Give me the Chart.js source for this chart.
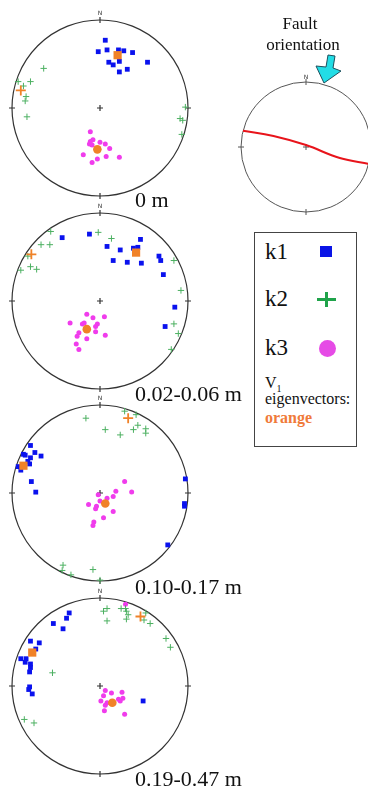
<!DOCTYPE html>
<html>
<head>
<meta charset="utf-8">
<script src="https://cdn.jsdelivr.net/npm/chart.js@4.4.0/dist/chart.umd.min.js"></script>
<style>
html, body { margin: 0; padding: 0; background: #fff; }
body { position: relative; width: 368px; height: 799px; overflow: hidden; font-family: "Liberation Serif", "Times New Roman", serif; color: #111; }
canvas { position: absolute; }
.t { position: absolute; white-space: nowrap; line-height: 1; }
.depth { font-size: 22px; left: 135px; }
.north { font-family: "DejaVu Sans", sans-serif; font-size: 6px; color: #333; transform: translateX(-50%); }
.key { position: absolute; left: 254px; top: 232px; width: 103px; height: 215px; box-sizing: border-box; border: 1.5px solid #444; }
.k { font-size: 23px; left: 265px; }
.mk { position: absolute; }
</style>
</head>
<body>

<canvas id="net1" width="200" height="200" style="left:0;top:8px"></canvas>
<canvas id="net2" width="200" height="200" style="left:0;top:201px"></canvas>
<canvas id="net3" width="200" height="200" style="left:0;top:393px"></canvas>
<canvas id="net4" width="200" height="200" style="left:0;top:586px"></canvas>
<canvas id="fault" width="150" height="175" style="left:230px;top:45px"></canvas>

<span class="t north" style="left:100px;top:10px">N</span>
<span class="t north" style="left:100px;top:203px">N</span>
<span class="t north" style="left:100px;top:395px">N</span>
<span class="t north" style="left:100px;top:588px">N</span>
<span class="t north" style="left:306px;top:74px">N</span>

<span class="t depth" style="top:189px">0 m</span>
<span class="t depth" style="top:383px">0.02-0.06 m</span>
<span class="t depth" style="top:576px">0.10-0.17 m</span>
<span class="t depth" style="top:768px">0.19-0.47 m</span>

<span class="t" style="font-size:17px;left:300px;top:15px;transform:translateX(-50%)">Fault</span>
<span class="t" style="font-size:17px;left:303px;top:36px;transform:translateX(-50%)">orientation</span>

<div class="key"></div>
<span class="t k" style="top:240px">k1</span>
<span class="t k" style="top:287px">k2</span>
<span class="t k" style="top:336px">k3</span>
<div class="mk" style="left:320px;top:246px;width:12px;height:11px;background:#0a14e6"></div>
<div class="mk" style="left:317px;top:298px;width:19px;height:3px;background:#1fa34a"></div>
<div class="mk" style="left:325px;top:292px;width:3px;height:15px;background:#1fa34a"></div>
<div class="mk" style="left:319px;top:340px;width:17px;height:17px;border-radius:50%;background:#e64be6"></div>
<span class="t" style="font-size:16px;left:265px;top:375px">V<sub style="font-size:10px">1</sub></span>
<span class="t" style="font-size:16px;left:265px;top:391px">eigenvectors:</span>
<span class="t" style="font-size:16px;left:265px;top:410px;color:#f07a3a;font-weight:bold">orange</span>

<script>
// lower-hemisphere nets, x = east, y = north, unit circle

// 0 m
var net1K1 = [[0.06, 0.77], [-0.02, 0.64], [0.08, 0.66], [0.21, 0.66], [0.27, 0.65], [0.37, 0.63],
    [0.22, 0.53], [0.10, 0.52], [0.15, 0.49], [0.31, 0.44], [0.22, 0.41], [0.54, 0.52]];
var net1K2 = [[-0.64, 0.45], [-0.93, 0.30], [-0.87, 0.25], [-0.79, 0.30], [-0.84, 0.13], [-0.85, 0.08],
    [-0.83, -0.10], [0.97, 0.01], [0.91, -0.12], [0.94, -0.14], [0.93, -0.30]];
var net1K3 = [[-0.11, -0.27], [-0.11, -0.38], [-0.12, -0.41], [-0.08, -0.36], [-0.09, -0.42], [0.00, -0.39],
    [0.06, -0.41], [0.11, -0.46], [-0.19, -0.53], [0.07, -0.55], [0.22, -0.56], [-0.03, -0.58], [-0.09, -0.62]];
var net1V1 = [[0.20, 0.60], [-0.90, 0.20], [-0.03, -0.47]];

// 0.02-0.06 m
var net2K1 = [[-0.43, 0.72], [-0.12, 0.76], [0.46, 0.70], [0.08, 0.62], [0.23, 0.58], [0.38, 0.60],
    [0.43, 0.61], [0.15, 0.46], [0.31, 0.44], [0.47, 0.43], [0.67, 0.51], [0.69, 0.46], [0.72, 0.30],
    [0.85, -0.07], [0.74, -0.29]];
var net2K2 = [[-0.56, 0.79], [-0.02, 0.78], [0.13, 0.71], [-0.67, 0.64], [-0.57, 0.64], [-0.82, 0.51],
    [-0.79, 0.39], [-0.72, 0.36], [-0.90, 0.35], [0.84, 0.46], [0.92, 0.12], [0.84, -0.26], [0.89, -0.37],
    [0.81, -0.55]];
var net2K3 = [[-0.15, -0.15], [-0.08, -0.19], [0.05, -0.18], [-0.34, -0.25], [-0.20, -0.26], [-0.18, -0.25],
    [-0.03, -0.26], [-0.05, -0.29], [-0.24, -0.36], [-0.05, -0.35], [0.06, -0.39], [-0.26, -0.40],
    [-0.15, -0.43], [-0.27, -0.49], [-0.24, -0.55]];
var net2V1 = [[0.41, 0.55], [-0.78, 0.53], [-0.15, -0.32]];

// 0.10-0.17 m
var net3K1 = [[-0.79, 0.54], [-0.87, 0.44], [-0.85, 0.43], [-0.74, 0.46], [-0.67, 0.42], [-0.79, 0.40],
    [-0.82, 0.36], [-0.80, 0.33], [-0.93, 0.30], [-0.90, 0.26], [-0.78, 0.13], [-0.73, 0.01],
    [0.97, 0.16], [0.96, -0.12], [0.96, -0.15], [0.77, -0.59]];
var net3K2 = [[-0.16, 0.85], [0.28, 0.93], [0.41, 0.89], [0.06, 0.72], [0.23, 0.66], [0.38, 0.72],
    [0.43, 0.77], [0.52, 0.73], [0.52, 0.68], [-0.42, -0.82], [-0.43, -0.88], [-0.33, -0.93],
    [-0.08, -0.87], [0.00, -0.99]];
var net3K3 = [[0.28, 0.13], [0.18, 0.02], [0.36, 0.01], [0.08, -0.06], [0.15, -0.04], [-0.02, -0.02],
    [0.00, -0.09], [-0.04, -0.15], [-0.13, -0.13], [-0.05, -0.18], [0.15, -0.21], [0.04, -0.28],
    [-0.07, -0.33], [-0.08, -0.37]];
var net3V1 = [[-0.87, 0.31], [0.32, 0.85], [0.06, -0.12]];

// 0.19-0.47 m
var net4K1 = [[-0.35, 0.83], [-0.38, 0.77], [-0.53, 0.71], [-0.42, 0.65], [-0.79, 0.51], [-0.69, 0.49],
    [-0.73, 0.42], [-0.90, 0.31], [-0.84, 0.31], [-0.85, 0.27], [-0.79, 0.25], [-0.79, 0.21],
    [-0.80, 0.16], [-0.80, -0.01], [-0.81, -0.04], [-0.77, -0.09], [0.49, -0.17]];
var net4K2 = [[0.08, 0.88], [0.04, 0.85], [0.08, 0.74], [0.24, 0.88], [0.29, 0.88], [0.30, 0.85],
    [0.32, 0.81], [0.30, 0.76], [0.52, 0.83], [0.57, 0.71], [0.75, 0.54], [0.80, 0.44],
    [-0.54, 0.15], [-0.86, -0.38], [-0.75, -0.42], [0.50, 0.75]];
var net4K3 = [[0.29, 0.93], [0.06, -0.05], [0.13, -0.08], [0.25, -0.07], [0.04, -0.11], [0.01, -0.17],
    [0.08, -0.19], [0.06, -0.22], [0.21, -0.15], [0.26, -0.14], [0.23, -0.17], [0.05, -0.28], [0.28, -0.32]];
var net4V1 = [[-0.77, 0.38], [0.46, 0.79], [0.14, -0.19]];

// fault great circle
var faultTrace = [[-0.97, 0.25], [-0.50, 0.17], [0.00, 0.03], [0.52, -0.17], [0.97, -0.26]];

var blue = '#0a12ee';
var green = '#4cb061';
var magenta = '#f03cec';
var orange = '#f08228';

function pts(arr) {
    return arr.map(function (p) { return { x: p[0], y: p[1] }; });
}

var netFrame = {
    id: 'netFrame',
    beforeDatasetsDraw: function (chart, args, opts) {
        var a = chart.chartArea, ctx = chart.ctx;
        var cx = (a.left + a.right) / 2, cy = (a.top + a.bottom) / 2, r = (a.right - a.left) / 2;
        ctx.save();
        ctx.strokeStyle = opts.color || '#333';
        ctx.lineWidth = opts.lineWidth || 1.2;
        ctx.beginPath();
        ctx.arc(cx, cy, r, 0, 2 * Math.PI);
        ctx.stroke();
        // N/E/S/W ticks and centre cross
        ctx.beginPath();
        ctx.moveTo(cx, a.top - 3); ctx.lineTo(cx, a.top + 3);
        ctx.moveTo(cx, a.bottom - 3); ctx.lineTo(cx, a.bottom + 3);
        ctx.moveTo(a.left - 3, cy); ctx.lineTo(a.left + 3, cy);
        ctx.moveTo(a.right - 3, cy); ctx.lineTo(a.right + 3, cy);
        ctx.moveTo(cx - 3, cy); ctx.lineTo(cx + 3, cy);
        ctx.moveTo(cx, cy - 3); ctx.lineTo(cx, cy + 3);
        ctx.stroke();
        ctx.restore();
    }
};

// cyan arrow pointing at the fault net, offsets in px from the net centre
var arrowShape = [[22, -92], [29, -91], [27, -79], [35, -76], [18, -64], [10, -81], [20, -80]];
var faultArrow = {
    id: 'faultArrow',
    afterDraw: function (chart) {
        var a = chart.chartArea, ctx = chart.ctx;
        var cx = (a.left + a.right) / 2, cy = (a.top + a.bottom) / 2;
        ctx.save();
        ctx.beginPath();
        arrowShape.forEach(function (p, i) {
            if (i === 0) ctx.moveTo(cx + p[0], cy + p[1]);
            else ctx.lineTo(cx + p[0], cy + p[1]);
        });
        ctx.closePath();
        ctx.fillStyle = '#22dde6';
        ctx.fill();
        ctx.strokeStyle = '#1d4f5c';
        ctx.lineWidth = 1;
        ctx.stroke();
        ctx.restore();
    }
};

function netDatasets(k1, k2, k3, v1) {
    return [
        { data: pts([v1[0]]), pointStyle: 'rect', pointRadius: 5.8, pointBackgroundColor: orange, pointBorderWidth: 0, clip: false },
        { data: pts([v1[1]]), pointStyle: 'cross', pointRadius: 5, pointBorderColor: orange, pointBorderWidth: 1.8, clip: false },
        { data: pts([v1[2]]), pointStyle: 'circle', pointRadius: 4.3, pointBackgroundColor: orange, pointBorderWidth: 0, clip: false },
        { data: pts(k1), pointStyle: 'rect', pointRadius: 3.4, pointBackgroundColor: blue, pointBorderWidth: 0, clip: false },
        { data: pts(k2), pointStyle: 'cross', pointRadius: 3.2, pointBorderColor: green, pointBorderWidth: 1, clip: false },
        { data: pts(k3), pointStyle: 'circle', pointRadius: 2.5, pointBackgroundColor: magenta, pointBorderWidth: 0, clip: false }
    ];
}

function makeNet(id, datasets, padding, frameOpts, extraPlugins) {
    return new Chart(document.getElementById(id), {
        type: 'scatter',
        data: { datasets: datasets },
        options: {
            responsive: false,
            animation: false,
            events: [],
            layout: { padding: padding },
            scales: {
                x: { type: 'linear', min: -1, max: 1, display: false },
                y: { type: 'linear', min: -1, max: 1, display: false }
            },
            plugins: {
                legend: { display: false },
                tooltip: { enabled: false },
                netFrame: frameOpts
            }
        },
        plugins: [netFrame].concat(extraPlugins || [])
    });
}

makeNet('net1', netDatasets(net1K1, net1K2, net1K3, net1V1), 12, {});
makeNet('net2', netDatasets(net2K1, net2K2, net2K3, net2V1), 12, {});
makeNet('net3', netDatasets(net3K1, net3K2, net3K3, net3V1), 12, {});
makeNet('net4', netDatasets(net4K1, net4K2, net4K3, net4V1), 12, {});

makeNet('fault', [{
    data: pts(faultTrace),
    showLine: true,
    borderColor: '#e8141b',
    borderWidth: 2,
    tension: 0.4,
    pointRadius: 0,
    clip: false
}], { left: 11, top: 37, right: 9, bottom: 8 }, { color: '#555', lineWidth: 1 }, [faultArrow]);
</script>
</body>
</html>
